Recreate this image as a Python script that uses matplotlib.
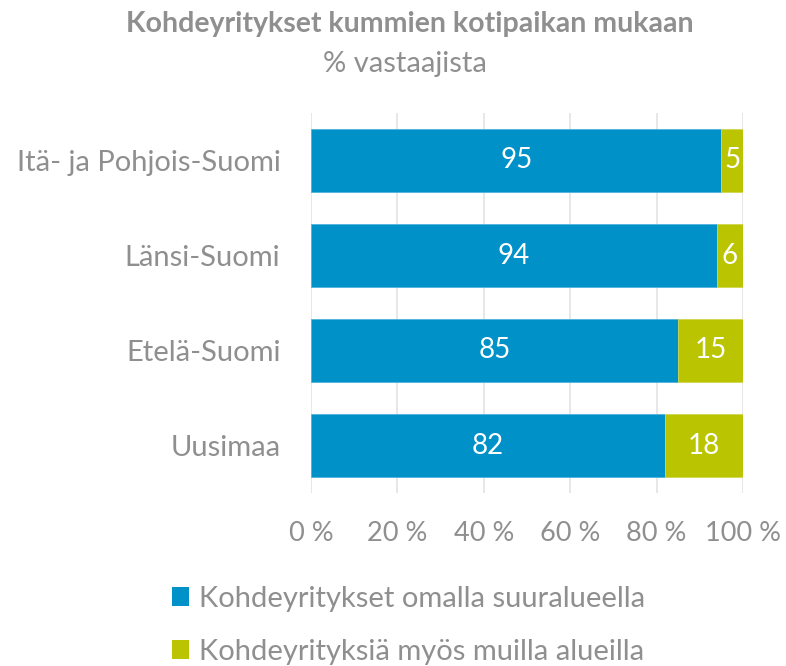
import matplotlib
matplotlib.use("Agg")
import matplotlib.pyplot as plt
from matplotlib.patches import Patch

plt.rcParams['font.family'] = ['Lato', 'DejaVu Sans']

categories = ["Itä- ja Pohjois-Suomi", "Länsi-Suomi", "Etelä-Suomi", "Uusimaa"]
own_region = [95, 94, 85, 82]
other_regions = [5, 6, 15, 18]
series_names = ["Kohdeyritykset omalla suuralueella", "Kohdeyrityksiä myös muilla alueilla"]
xticks = [0, 20, 40, 60, 80, 100]
xticklabels = ["0 %", "20 %", "40 %", "60 %", "80 %", "100 %"]
title = "Kohdeyritykset kummien kotipaikan mukaan"
subtitle = "% vastaajista"

blue = "#0091C8"
green = "#BAC400"
gray = "#8F8F8F"

fig = plt.figure(figsize=(7.86, 6.66), dpi=100)
ax = fig.add_axes([311/786, (666-493)/666, 432/786, 380/666])

y = list(range(len(categories)))[::-1]
ax.barh(y, own_region, height=0.665, color=blue, edgecolor="#4FB3DC", linewidth=0.6, zorder=3)
ax.barh(y, other_regions, left=own_region, height=0.665, color=green, edgecolor="#D0D64F", linewidth=0.6, zorder=3)

for yi, a, b in zip(y, own_region, other_regions):
    ax.text(a/2, yi, str(a), ha="center", va="center", color="white", fontsize=20, zorder=4)
    ax.text(a + b/2, yi, str(b), ha="center", va="center", color="white", fontsize=20, zorder=4)

ax.set_xlim(0, 100)
ax.set_ylim(-0.5, 3.5)
ax.set_yticks(y)
ax.set_yticklabels(categories, fontsize=21, color=gray)
ax.set_xticks(xticks)
ax.set_xticklabels(xticklabels, fontsize=19.5, color=gray)
ax.tick_params(axis="both", length=0)
ax.tick_params(axis="y", pad=22)
ax.tick_params(axis="x", pad=20)
ax.grid(axis="x", color="#E3E3E3", linewidth=1.2, zorder=0)
for s in ax.spines.values():
    s.set_visible(False)

fig.text(410/786, 1 - 24/666, title, ha="center", va="center", fontsize=20.5, fontweight="bold", color=gray)
fig.text(405/786, 1 - 64/666, subtitle, ha="center", va="center", fontsize=21, color=gray)

handles = [Patch(facecolor=blue), Patch(facecolor=green)]
fig.legend(handles, series_names, loc="upper left", bbox_to_anchor=(160/786, 1 - 574/666),
           frameon=False, fontsize=21, handlelength=0.6, handleheight=0.6,
           handletextpad=0.35, labelspacing=0.93, labelcolor=gray, borderaxespad=0)

fig.savefig("out.png", dpi=100)
